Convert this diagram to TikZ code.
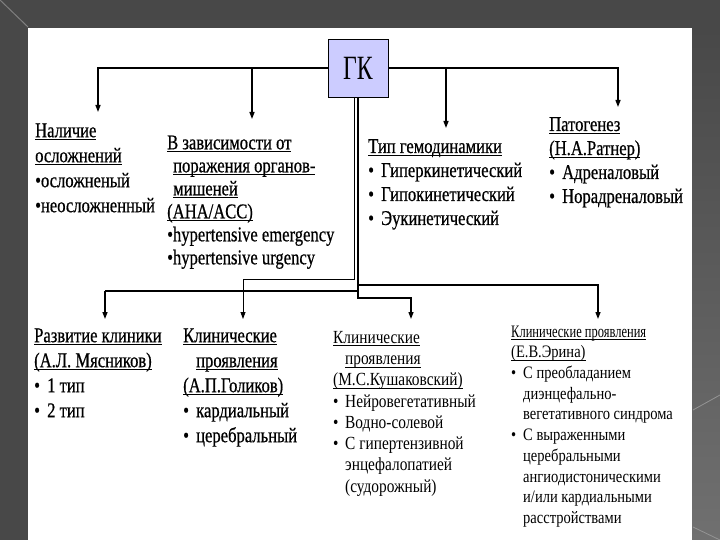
\documentclass[tikz,border=0pt]{standalone}
\usepackage{fontspec}
\setmainfont{Liberation Serif}
\newfontfamily\narrowserif[FakeStretch=0.79,FakeBold=0.6]{Liberation Serif}
\newfontfamily\thinserif[FakeStretch=0.83]{Liberation Serif}
\newfontfamily\titleserif[FakeStretch=0.7]{Liberation Serif}
\usepackage{xcolor}
\usetikzlibrary{arrows.meta,positioning,calc}
\definecolor{slidegray}{RGB}{72,72,72}
\definecolor{slidelight}{RGB}{112,112,112}
\definecolor{gkfill}{RGB}{204,204,255}

% underlined heading line and bullets
\newcommand{\ulhead}[1]{\setbox0\hbox{#1}\rlap{\rule[-3pt]{\wd0}{0.9pt}}\box0}
\newcommand{\bulw}{\makebox[13pt][l]{\textbullet}}
\newcommand{\buln}{\makebox[12pt][l]{\textbullet}}

\begin{document}
\begin{tikzpicture}[x=1pt,y=-1pt,
    conn/.style={line width=1.3pt},
    arr/.style={conn,-{Triangle[length=7pt,width=5pt]}},
    txt/.style 2 args={anchor=north west,inner sep=0pt,align=left,
        font=\narrowserif\fontsize{#1}{#2}\selectfont},
    thintxt/.style 2 args={anchor=north west,inner sep=0pt,align=left,
        font=\thinserif\fontsize{#1}{#2}\selectfont}]
    \useasboundingbox (0,0) rectangle (720,540);

    % Slide background
    \fill[slidegray] (0,0) rectangle (720,540);
    \shade[top color=slidegray, bottom color=slidelight] (692,28) rectangle (720,540);
    \draw[white!30!slidegray, line width=1pt] (0,0) -- (28,27);
    \draw[white!25!slidelight, line width=0.8pt] (693,410) -- (720,395);
    \draw[white!25!slidelight, line width=0.8pt] (693,527) -- (720,540);
    \fill[white] (28,28) rectangle (692,540);

    % Root box
    \node[draw=black, fill=gkfill, line width=0.8pt, minimum width=60pt,
        minimum height=58pt, inner sep=0pt,
        font=\titleserif\fontsize{34}{34}\selectfont] (gk) at (358,68) {ГК};

    % Upper row
    \node[txt={21}{25}] (nal) at (35,119.5)
        {\strut\ulhead{Наличие}\\ \ulhead{осложнений}\\
         \textbullet осложненый\\ \textbullet неосложненный};
    \node[txt={21}{23}] (zav) at (167,133)
        {\strut\ulhead{В зависимости от}\\ \hspace*{6pt}\ulhead{поражения органов-}\\
         \hspace*{6pt}\ulhead{мишеней}\\ \ulhead{(AHA/ACC)}\\
         \textbullet hypertensive emergency\\ \textbullet hypertensive urgency};
    \node[txt={21}{24}] (gem) at (368,136)
        {\strut\ulhead{Тип гемодинамики}\\ \bulw Гиперкинетический\\
         \bulw Гипокинетический\\ \bulw Эукинетический};
    \node[txt={21}{24}] (pat) at (549,114)
        {\strut\ulhead{Патогенез}\\ \ulhead{(Н.А.Ратнер)}\\
         \bulw Адреналовый\\ \bulw Норадреналовый};

    % Lower row
    \node[txt={21}{25}] (razv) at (34,324.5)
        {\strut\ulhead{Развитие клиники}\\ \ulhead{(А.Л. Мясников)}\\
         \bulw 1 тип\\ \bulw 2 тип};
    \node[txt={21}{25}] (gol) at (183,324.5)
        {\strut\ulhead{Клинические}\\ \hspace*{13pt}\ulhead{проявления}\\
         \ulhead{(А.П.Голиков)}\\ \bulw кардиальный\\ \bulw церебральный};
    \node[thintxt={18.5}{21.3}] (kush) at (333,328)
        {\strut\ulhead{Клинические}\\ \hspace*{12pt}\ulhead{проявления}\\
         \ulhead{(М.С.Кушаковский)}\\ \buln Нейровегетативный\\
         \buln Водно-солевой\\ \buln С гипертензивной\\
         \hspace*{12pt}энцефалопатией\\ \hspace*{12pt}(судорожный)};
    \node[thintxt={17.5}{20.7}] (erina) at (511,322.5)
        {\strut\ulhead{\scalebox{0.86}[1]{Клинические проявления}}\\ \ulhead{(Е.В.Эрина)}\\
         \buln С преобладанием\\ \hspace*{12pt}диэнцефально-\\
         \hspace*{12pt}вегетативного синдрома\\ \buln С выраженными\\
         \hspace*{12pt}церебральными\\ \hspace*{12pt}ангиодистоническими\\
         \hspace*{12pt}и/или кардиальными\\ \hspace*{12pt}расстройствами};

    % Arrow ends and junctions
    \coordinate (tA) at (98,112);
    \coordinate (tB) at (252,119);
    \coordinate (tC) at (446,128);
    \coordinate (tD) at (618,107);
    \coordinate (tR) at (105,319);
    \coordinate (tG) at (243,319);
    \coordinate (tK) at (411,319);
    \coordinate (tE) at (598,319);
    \coordinate (jG) at (243,279);
    \coordinate (jE) at (357,285);
    \coordinate (jR) at (357,291);
    \coordinate (jK) at (357,298);

    % Upper connectors
    \draw[arr] (gk.west) -| (tA);
    \draw[arr] (gk.east) -| (tD);
    \draw[arr] (tB |- gk.west) -- (tB);
    \draw[arr] (tC |- gk.east) -- (tC);

    % Lower connectors
    \draw[conn] (gk.south) -- (gk.south |- jK);
    \draw[arr, line width=0.8pt] ([xshift=-4pt]gk.south) |- (jG) -- (tG);
    \draw[conn, line width=2pt] (jR) -- (jR -| tR);
    \draw[arr] (jR -| tR) -- (tR);
    \draw[arr] (jE) -| (tE);
    \draw[arr] (jK) -| (tK);
\end{tikzpicture}
\end{document}
